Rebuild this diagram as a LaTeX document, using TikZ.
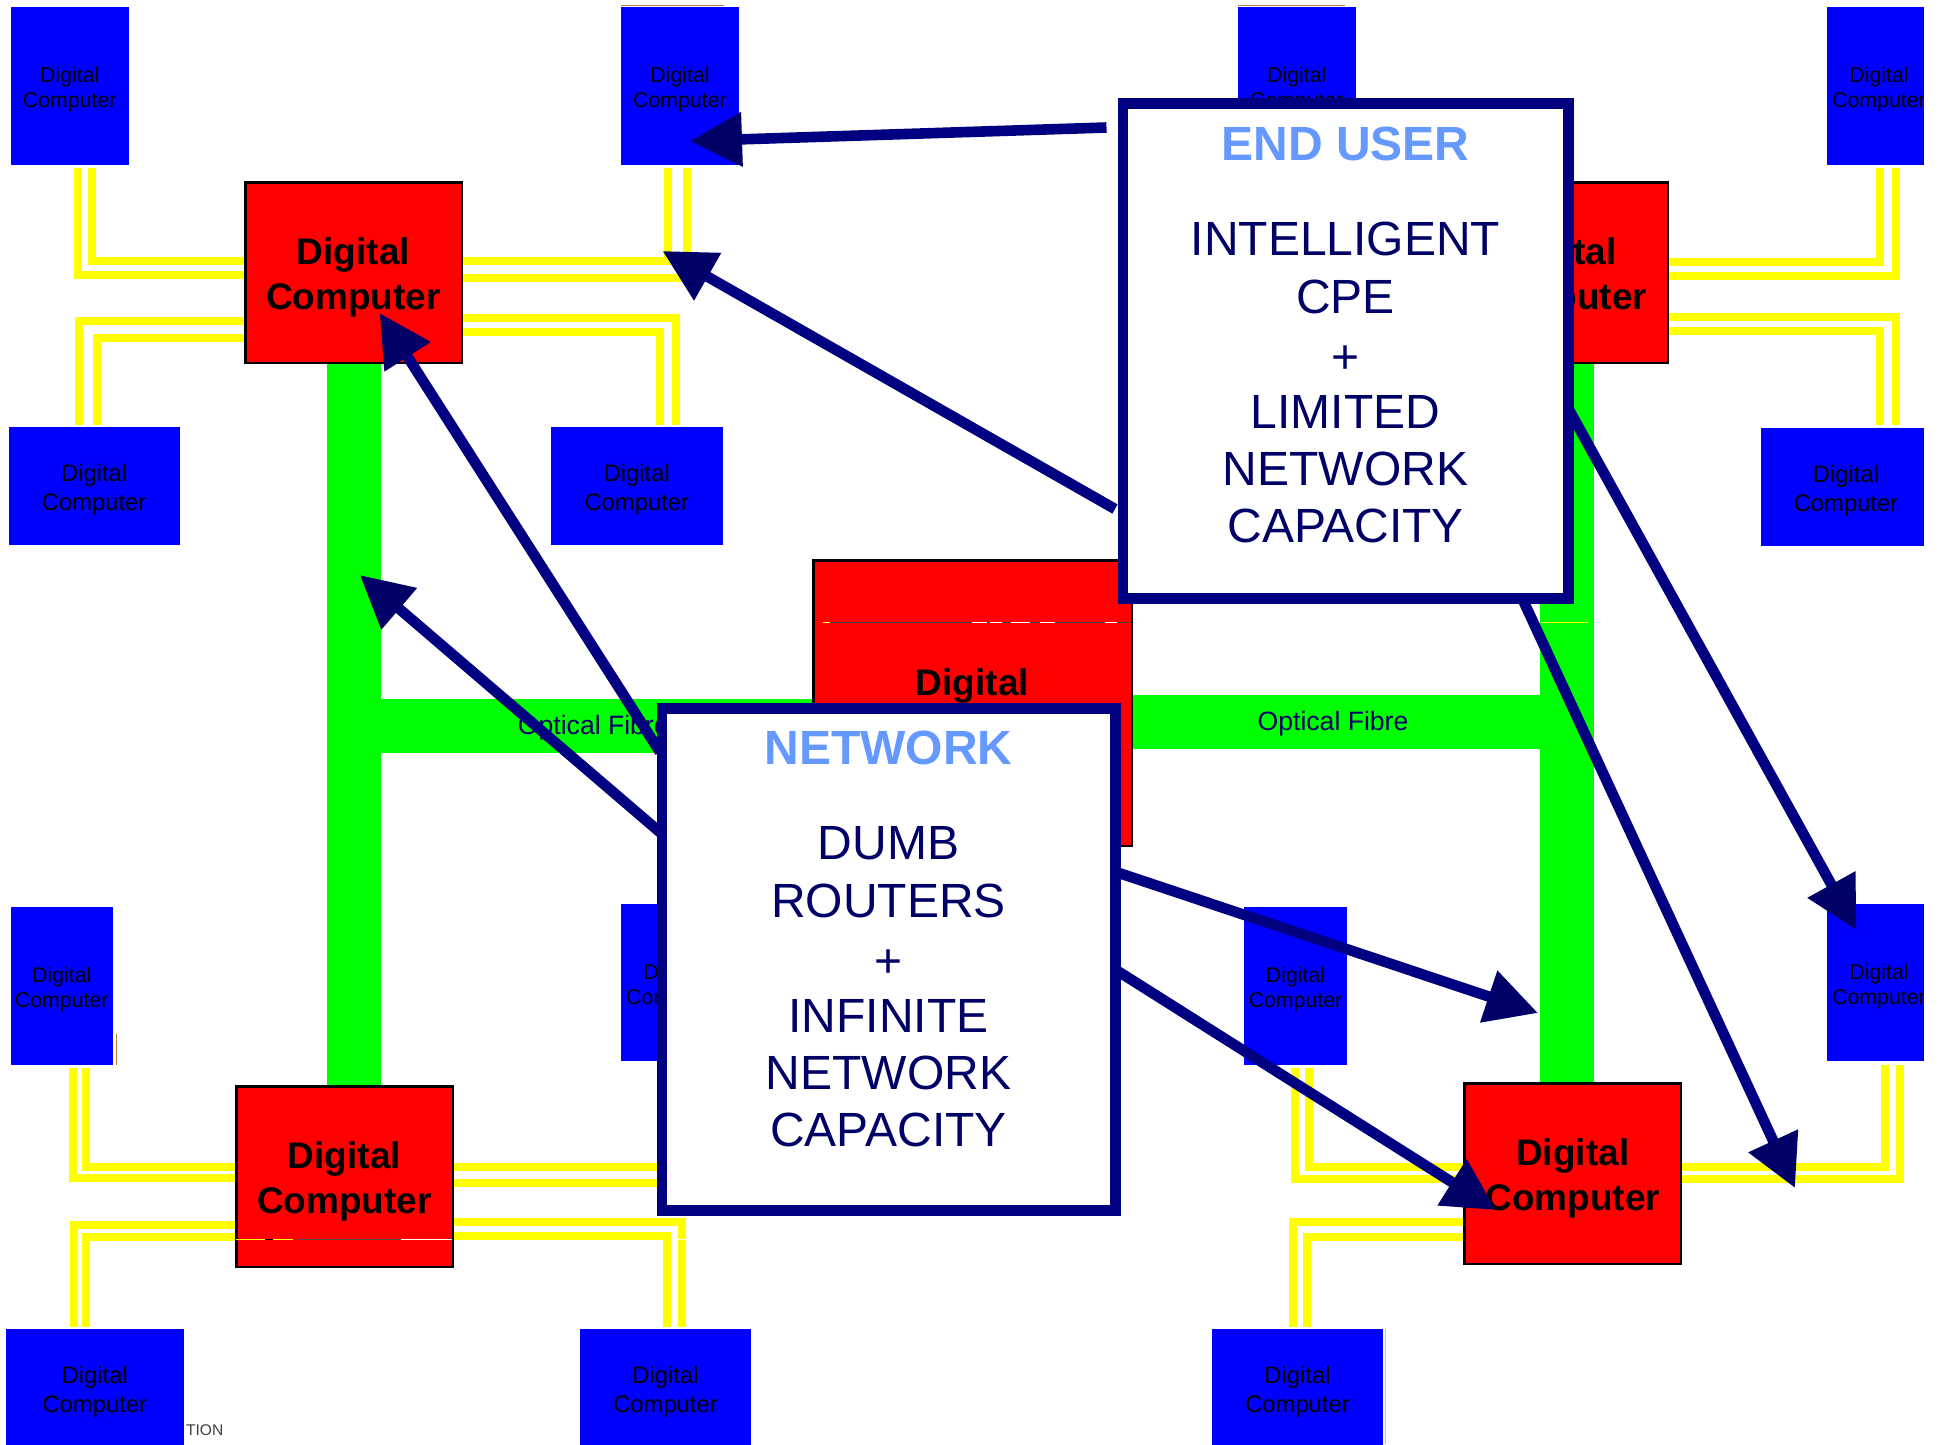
\documentclass[tikz,border=0pt]{standalone}
\usepackage{fontspec}
\setmainfont{Liberation Sans}
\usetikzlibrary{arrows.meta}
\definecolor{navyline}{HTML}{000080}
\definecolor{navyhead}{HTML}{000066}
\definecolor{titleblue}{HTML}{6699FF}
\definecolor{pureblue}{HTML}{0000FF}
\definecolor{purered}{HTML}{FF0000}
\definecolor{puregreen}{HTML}{00FF00}
\definecolor{pureyellow}{HTML}{FFFF00}
\tikzset{
  bluebox/.style={fill=pureblue,draw=none,inner sep=0pt,outer sep=0pt},
  bluenarrow/.style={bluebox,minimum height=158pt},
  bluewide/.style={bluebox,minimum height=118pt},
  redbox/.style={fill=purered,draw=black,line width=2.5pt,inner sep=0pt,minimum width=216.5pt,minimum height=180.5pt},
  smalltext/.style={align=center,inner sep=0pt,text=black,font=\fontsize{21.3}{25.3}\selectfont},
  widetext/.style={align=center,inner sep=0pt,text=black,font=\fontsize{23.8}{29}\selectfont},
  bigtext/.style={align=center,inner sep=0pt,text=black,font=\fontsize{37}{45}\selectfont\bfseries},
  fibre/.style={draw=puregreen,line width=54pt},
  copper/.style={draw=pureyellow,line width=8pt},
  fibrelabel/.style={text=navyhead,font=\fontsize{26.6}{30}\selectfont,inner sep=0pt},
  callout/.style={fill=white,draw=navyline,line width=10.6pt,inner sep=0pt},
  callouttext/.style={text=navyhead,align=center,inner sep=0pt,font=\fontsize{48}{57.2}\selectfont},
  arw/.style={draw=navyline,line width=10.6pt,-{Triangle[length=52pt,width=52pt,color=navyhead,fill=navyhead]}},
  sliver/.style={line width=0.9pt},
}
\newcommand{\calloutbody}[2]{{\bfseries\color{titleblue}#1}\\[38.5pt]#2}
\begin{document}
\begin{tikzpicture}[x=1pt,y=-1pt]
\useasboundingbox (0,0) rectangle (1942,1444);
% computers
\node[bluenarrow,minimum width=118.5pt] (B1) at (69.75,86) {};
\node[bluenarrow,minimum width=118pt] (B2) at (680,86) {};
\node[bluenarrow,minimum width=117.5pt] (B3) at (1296.75,86) {};
\node[bluenarrow,minimum width=104pt] (B4) at (1879,86) {};
\node[bluewide,minimum width=171pt] (B5) at (94.15,486) {};
\node[bluewide,minimum width=171.6pt] (B6) at (636.8,486) {};
\node[bluewide,minimum width=170pt] (B7) at (1846,487) {};
\node[bluenarrow,minimum width=102.5pt] (B8) at (61.75,986) {};
\node[bluenarrow,minimum width=104pt,minimum height=157pt] (B9) at (673,982.5) {};
\node[bluewide,minimum width=178.4pt] (B10) at (94.8,1388) {};
\node[bluewide,minimum width=171pt] (B11) at (665.5,1388) {};
\node[bluenarrow,minimum width=103pt] (B12) at (1295.5,986) {};
\node[bluenarrow,minimum width=104pt,minimum height=157pt] (B13) at (1879,982.5) {};
\node[bluewide,minimum width=171pt] (B14) at (1297.5,1388) {};
% routers
\node[redbox] (R1) at (353.5,272.5) {};
\node[redbox] (R2) at (1559.75,272.5) {};
\node[redbox,minimum width=318.5pt,minimum height=285.5pt] (R3) at (972.5,703) {};
\node[redbox] (R4) at (344.5,1176.5) {};
\node[redbox] (R5) at (1572.75,1173.5) {};
% box texts
\foreach \n in {B1,B2,B3,B4,B8,B9,B12,B13}
  \node[smalltext] (\n t) at ([yshift=-3.7pt]\n.center) {Digital\\Computer};
\foreach \n in {B5,B6,B7,B10,B11,B14}
  \node[widetext] (\n t) at ([yshift=-3.7pt]\n.center) {Digital\\Computer};
\foreach \n in {R1,R2,R3,R4,R5}
  \node[bigtext] (\n t) at ([yshift=-5pt]\n.center) {Digital\\Computer};
% optical fibre
\draw[fibre] (R1.south) -- (R1.south |- R4.north);
\draw[fibre] ([shift={(0,22.5)}]R3.west) -- ([shift={(0,22.5)}]R3.west -| R1.south);
\draw[fibre] ([shift={(7.25,0)}]R2.south) -- ([shift={(-5.75,0)}]R5.north);
\draw[fibre] ([shift={(0,19)}]R3.east) -- ([shift={(0,19)}]R3.east -| R5.north);
\node[fibrelabel] (F1) at (593.3,727.5) {Optical Fibre};
\node[fibrelabel] (F2) at (1333,723.5) {Optical Fibre};
% copper pairs
\draw[copper] ([shift={(7.95,2.5)}]B1.south) |- ([shift={(0,2.5)}]R1.west);
\draw[copper] ([shift={(22.25,2.5)}]B1.south) |- ([shift={(0,-11.5)}]R1.west);
\draw[copper] ([shift={(-12,2.5)}]B2.south) |- ([shift={(0,-11.5)}]R1.east);
\draw[copper] ([shift={(7,2.5)}]B2.south) |- ([shift={(0,5)}]R1.east);
\draw[copper] ([shift={(-14.85,-2.5)}]B5.north) |- ([shift={(0,48.5)}]R1.west);
\draw[copper] ([shift={(3.15,-2.5)}]B5.north) |- ([shift={(0,65.5)}]R1.west);
\draw[copper] ([shift={(39.2,-2.5)}]B6.north) |- ([shift={(0,45.5)}]R1.east);
\draw[copper] ([shift={(23.2,-2.5)}]B6.north) |- ([shift={(0,59.5)}]R1.east);
\draw[copper] ([shift={(1,2.5)}]B4.south) |- ([shift={(0,-10.5)}]R2.east);
\draw[copper] ([shift={(17,2.5)}]B4.south) |- ([shift={(0,3.5)}]R2.east);
\draw[copper] ([shift={(50,-3.5)}]B7.north) |- ([shift={(0,44.5)}]R2.east);
\draw[copper] ([shift={(34,-3.5)}]B7.north) |- ([shift={(0,58.5)}]R2.east);
\draw[copper] ([shift={(11.25,2.5)}]B8.south) |- ([shift={(0,1.5)}]R4.west);
\draw[copper] ([shift={(24.25,2.5)}]B8.south) |- ([shift={(0,-9.5)}]R4.west);
\draw[copper] ([shift={(-6,2.5)}]B9.south) |- ([shift={(0,-9.5)}]R4.east);
\draw[copper] ([shift={(9,2.5)}]B9.south) |- ([shift={(0,6.5)}]R4.east);
\draw[copper] ([shift={(-20.8,-2.5)}]B10.north) |- ([shift={(0,48.5)}]R4.west);
\draw[copper] ([shift={(-8.8,-2.5)}]B10.north) |- ([shift={(0,60)}]R4.west);
\draw[copper] ([shift={(16.5,-2.5)}]B11.north) |- ([shift={(0,45.5)}]R4.east);
\draw[copper] ([shift={(1.5,-2.5)}]B11.north) |- ([shift={(0,59.5)}]R4.east);
\draw[copper] ([shift={(-0.5,2.5)}]B12.south) |- ([shift={(0,5.5)}]R5.west);
\draw[copper] ([shift={(13.5,2.5)}]B12.south) |- ([shift={(0,-6.5)}]R5.west);
\draw[copper] ([shift={(6,3.5)}]B13.south) |- ([shift={(0,-6.5)}]R5.east);
\draw[copper] ([shift={(21,3.5)}]B13.south) |- ([shift={(0,5.5)}]R5.east);
\draw[copper] ([shift={(-4.5,-2.5)}]B14.north) |- ([shift={(0,48.5)}]R5.west);
\draw[copper] ([shift={(9.5,-2.5)}]B14.north) |- ([shift={(0,63.5)}]R5.west);
% page edge and stray artefacts
\fill[white] (1924,0) rectangle (1942,1444);
\node[text=black!75,inner sep=0pt,anchor=west,font=\fontsize{15.5}{18}\selectfont] (stray) at (186,1430) {TION};
\draw[sliver,black!75] (823,622) -- (1131,622);
\draw[sliver,pureyellow] (823,622) -- (830,622);
\draw[sliver,white] (972,622) -- (987,622) (990,622) -- (1002,622) (1011,622) -- (1030,622) (1040,622) -- (1055,622) (1105,622) -- (1117,622);
\draw[sliver,pureyellow] (1541,622.3) -- (1588,622.3);
\draw[sliver,pureyellow] (236,1239.5) -- (265,1239.5) (273,1239.5) -- (293,1239.5);
\draw[sliver,black] (265,1239.5) -- (273,1239.5);
\draw[sliver,black!70] (298,1239.5) -- (401,1239.5);
\draw[sliver,white] (401,1239.5) -- (452,1239.5) (678,1239.5) -- (686,1239.5);
\draw[sliver,brown] (621,5.5) -- (724,5.5);
\draw[sliver,brown] (1238,5.5) -- (1345,5.5);
\draw[sliver,brown] (116,1034) -- (116,1065);
\draw[sliver,brown!50] (1385.5,1329) -- (1385.5,1444);
% call-outs
\node[callout,minimum width=453.9pt,minimum height=501.9pt] (net) at (888.75,959.25) {};
\node[callout,minimum width=445.4pt,minimum height=495.4pt] (user) at (1345.5,351) {};
\node[callouttext] (usertext) at (1345.6,335) {\calloutbody{END USER}{INTELLIGENT\\CPE\\[3.5pt]+\\[-2.5pt]LIMITED\\NETWORK\\CAPACITY}};
\node[callouttext] (nettext) at (888.5,939) {\calloutbody{NETWORK}{DUMB\\ROUTERS\\[3.5pt]+\\[-2.5pt]INFINITE\\NETWORK\\CAPACITY}};
% arrows
\coordinate (t1) at (690,141);
\coordinate (t2) at (662.5,251);
\coordinate (t3) at (379.6,313);
\coordinate (t4) at (359.8,575);
\coordinate (t5) at (1538,1013);
\coordinate (t6) at (1496,1210);
\coordinate (t7) at (1856.5,930);
\coordinate (t8) at (1795,1188);
\draw[arw] ([shift={(-11,29.5)}]user.north west) -- (t1);
\draw[arw] ([shift={(-2.5,411)}]user.north west) -- (t2);
\draw[arw] ([shift={(3.5,49)}]net.north west) -- (t3);
\draw[arw] ([shift={(5.5,131)}]net.north west) -- (t4);
\draw[arw] ([shift={(-5,169)}]net.north east) -- (t5);
\draw[arw] ([shift={(-5,267)}]net.north east) -- (t6);
\draw[arw] ([shift={(-5.5,310)}]user.north east) -- (t7);
\draw[arw] ([shift={(-51.5,-6)}]user.south east) -- (t8);
\end{tikzpicture}
\end{document}
